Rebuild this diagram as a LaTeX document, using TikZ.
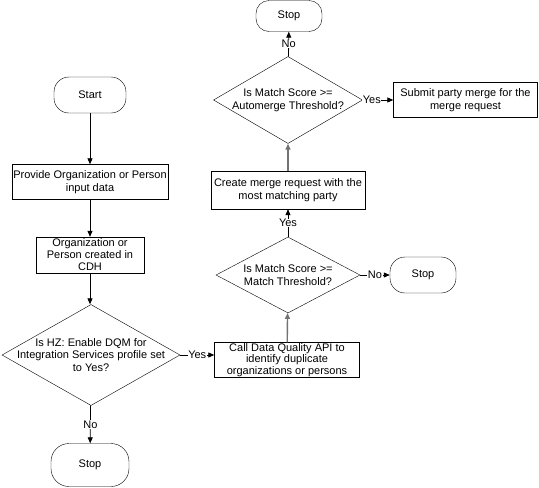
\documentclass[tikz,border=0pt]{standalone}
\usepackage{fontspec}
\setmainfont{Liberation Sans}
\usetikzlibrary{arrows.meta, shapes.geometric, positioning, calc}

\begin{document}
\begin{tikzpicture}[x=1pt,y=-1pt,
        font=\fontsize{11}{12.5}\selectfont,
        term/.style={draw,rounded corners=15pt,minimum width=72pt,
                     minimum height=36pt,inner sep=0pt},
        proc/.style={draw,align=center,inner sep=1pt},
        dec/.style={draw,diamond,inner sep=0pt},
        txt/.style={align=center,inner sep=0pt},
        arr/.style={draw,line width=0.8pt,-{Triangle[length=6pt,width=5pt]}},
        lbl/.style={fill=white,inner sep=0.5pt}
      ]
        \useasboundingbox (0,0) rectangle (539,488);
        % left column
        \node[term] (start) at (90,95) {Start};
        \node[proc,minimum width=155pt,minimum height=35pt] (input) at (90,182)
          {Provide Organization or Person\\input data};
        \node[proc,minimum width=108pt,minimum height=36pt,inner ysep=0pt,
              font=\fontsize{11}{12}\selectfont] (created) at (90,255)
          {Organization or\\Person created in\\CDH};
        \node[dec,minimum width=178pt,minimum height=101pt] (dqm) at (91,355) {};
        \node[txt] (dqmtxt) at (dqm) {Is HZ: Enable DQM for\\Integration Services profile set\\to Yes?};
        \node[term,minimum width=78pt,minimum height=43pt,rounded corners=18pt] (stopa) at (90,465) {Stop};
        % right column
        \node[proc,minimum width=145pt,minimum height=35pt,inner ysep=0pt,
              font=\fontsize{11}{11.5}\selectfont] (dqapi) at (287,360)
          {Call Data Quality API to\\identify duplicate\\organizations or persons};
        \node[dec,minimum width=144pt,minimum height=76pt] (match) at (288,275) {};
        \node[txt] (matchtxt) at (match) {Is Match Score >=\\Match Threshold?};
        \node[term,minimum width=66pt,minimum height=36pt] (stopb) at (423,275) {Stop};
        \node[proc,minimum width=154pt,minimum height=38pt] (mreq) at (288,190)
          {Create merge request with the\\most matching party};
        \node[dec,minimum width=149pt,minimum height=87pt] (auto) at (288,100) {};
        \node[txt] (autotxt) at (auto) {Is Match Score >=\\Automerge Threshold?};
        \node[proc,minimum width=144pt,minimum height=35pt] (submit) at (465.5,100)
          {Submit party merge for the\\merge request};
        \node[term,minimum width=66pt,minimum height=31pt,rounded corners=13pt] (stopc) at (289,16) {Stop};
        % connectors
        \draw[arr] (start) -- (input);
        \draw[arr] (input) -- (created);
        \draw[arr] (created.south) -- (created.south |- dqm.north);
        \draw[arr] (dqm) -- node[lbl] {No} (stopa);
        \draw[arr] (dqm.east) -- node[lbl] {Yes} (dqm.east -| dqapi.west);
        \draw[arr,draw=black!55,line width=1.4pt] (dqapi) -- (match);
        \draw[arr] (match) -- node[lbl] {No} (stopb);
        \draw[arr] (match) -- node[lbl] {Yes} (mreq);
        \draw[arr,draw=black!55,line width=1.4pt] (mreq) -- (auto);
        \draw[arr] (auto) -- node[lbl,pos=0.3] {Yes} (submit);
        \draw[arr] (auto) -- node[lbl] {No} (stopc);
      \end{tikzpicture}
\end{document}
